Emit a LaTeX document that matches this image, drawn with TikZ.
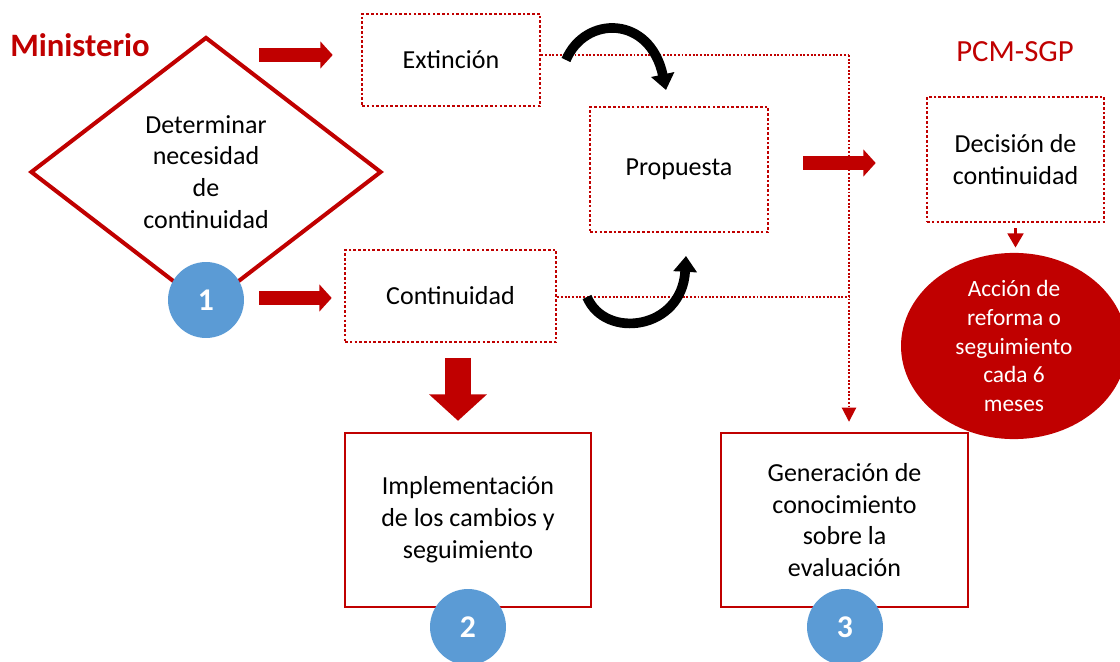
\documentclass[tikz,border=0pt]{standalone}
\usepackage{fontspec}
\setmainfont{Carlito}
\usetikzlibrary{shapes.geometric,arrows.meta}
\definecolor{mired}{HTML}{C00000}
\definecolor{miblue}{HTML}{5B9BD5}

\begin{document}
\begin{tikzpicture}[x=0.02cm, y=-0.02cm,
        font=\fontsize{14.8}{18.1}\selectfont,
        dotbox/.style={draw=mired, line width=1.5pt, dash pattern=on 1.5pt off 1.2pt, align=center, inner sep=0pt},
        solidbox/.style={draw=mired, line width=1.4pt, align=center, inner sep=0pt, minimum width=4.92cm, minimum height=3.48cm},
        num/.style={circle, fill=miblue, text=white, font=\bfseries\fontsize{18}{20}\selectfont, minimum size=1.52cm, inner sep=0pt},
        blockarrow/.style={mired, line width=7.5pt, -{Triangle[length=7pt,width=15pt]}},
        dotline/.style={mired, line width=1.1pt, dash pattern=on 1.1pt off 1pt},
        turn/.style={line width=5.5pt, -{Triangle[length=9pt,width=13pt]}}]

        \useasboundingbox (0,0) rectangle (1120,662);

        \node[text=mired, font=\bfseries\fontsize{18.6}{22}\selectfont] (min) at (80,45) {Ministerio};
        \node[text=mired, font=\fontsize{17.5}{20}\selectfont] (pcm) at (1015,52) {PCM-SGP};

        \node[diamond, draw=mired, line width=2.3pt, minimum width=7.02cm, minimum height=5.4cm, inner sep=0pt, align=center] (det) at (206,172) {Determinar\\necesidad\\de\\continuidad};
        \node[num] (n1) at (206,300) {1};

        \node[dotbox, minimum width=3.56cm, minimum height=1.84cm] (ext) at (451,60) {Extinción};
        \node[dotbox, minimum width=4.22cm, minimum height=1.84cm] (cont) at (450.5,296) {Continuidad};
        \node[dotbox, minimum width=3.56cm, minimum height=2.5cm] (prop) at (679,169.5) {Propuesta};
        \node[dotbox, minimum width=3.54cm, minimum height=2.5cm] (dec) at (1015.5,159.5) {Decisión de\\continuidad};

        \node[ellipse, fill=mired, text=white, minimum width=4.52cm, minimum height=3.48cm, inner sep=0pt, align=center,
              font=\fontsize{13.3}{16.4}\selectfont] (acc) at (1014,346) {Acción de\\reforma o\\seguimiento\\cada 6\\meses};

        \node[solidbox] (impl) at (468,520) {Implementación\\de los cambios y\\seguimiento};
        \node[solidbox, minimum width=4.94cm] (gen) at (844.5,520) {Generación de\\conocimiento\\sobre la\\evaluación};
        \node[num] (n2) at (468,627) {2};
        \node[num] (n3) at (845,627) {3};

        \coordinate (a1) at (259,55);
        \coordinate (a2) at (259,298);
        \coordinate (a3) at (803,163);
        \coordinate (a4) at (458,358);
        \coordinate (j1) at (849,55);
        \coordinate (j2) at (849,297);

        \draw[blockarrow, shorten >=0.56cm] (a1) -- (a1 -| ext.west);
        \draw[blockarrow, shorten >=0.24cm] (a2) -- (a2 -| cont.west);
        \draw[blockarrow, shorten >=1cm] (a3) -- (a3 -| dec.west);
        \draw[mired, line width=14.5pt, -{Triangle[length=15pt,width=32pt]}, shorten >=0.22cm] (a4) -- (a4 |- impl.north);
        \draw[mired, line width=1.2pt, -{Triangle[length=8pt,width=9pt]}, shorten <=0.1cm, shorten >=0.1cm] (dec.south) -- (dec.south |- acc.north);

        \draw[dotline] (ext.east |- j1) -- (j1);
        \draw[dotline, -{Triangle[length=8pt,width=8pt]}, shorten >=0.2cm] (j1) -- (j1 |- gen.north);
        \draw[dotline] (cont.east |- j2) -- (j2);

        \coordinate (t1) at (566,60);
        \coordinate (t2) at (666,90);
        \coordinate (t3) at (587,297);
        \coordinate (t4) at (686,256);
        \draw[turn] (t1) .. controls (585,15) and (650,15) .. (t2);
        \draw[turn] (t3) .. controls (605,340) and (682,330) .. (t4);

    \end{tikzpicture}
\end{document}
